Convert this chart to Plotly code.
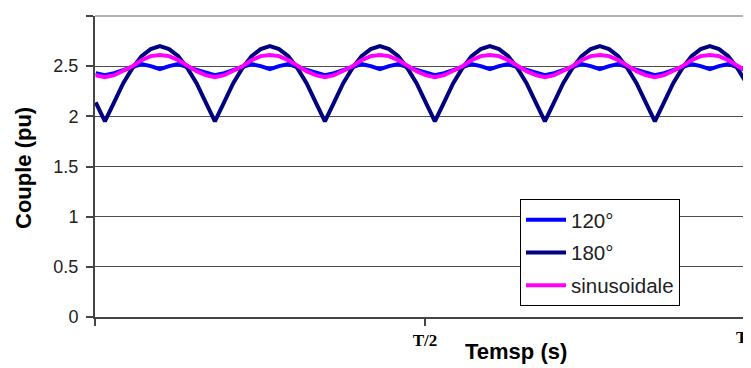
import plotly.graph_objects as go

# Time samples in units of the period T (uniform sampling, 1/72 T step)
t = [0.015 + (i - 1) / 72 for i in range(74)]

# Torque values (pu)
couple_120 = [2.43,
              2.41, 2.43, 2.46, 2.49, 2.52, 2.50, 2.47, 2.50, 2.52, 2.49, 2.46, 2.43,
              2.41, 2.43, 2.46, 2.49, 2.52, 2.50, 2.47, 2.50, 2.52, 2.49, 2.46, 2.43,
              2.41, 2.43, 2.46, 2.49, 2.52, 2.50, 2.47, 2.50, 2.52, 2.49, 2.46, 2.43,
              2.41, 2.43, 2.46, 2.49, 2.52, 2.50, 2.47, 2.50, 2.52, 2.49, 2.46, 2.43,
              2.41, 2.43, 2.46, 2.49, 2.52, 2.50, 2.47, 2.50, 2.52, 2.49, 2.46, 2.43,
              2.41, 2.43, 2.46, 2.49, 2.52, 2.50, 2.47, 2.50, 2.52, 2.49, 2.46, 2.43,
              2.41]
couple_180 = [2.14,
              1.95, 2.14, 2.33, 2.48, 2.60, 2.67, 2.70, 2.67, 2.60, 2.48, 2.33, 2.14,
              1.95, 2.14, 2.33, 2.48, 2.60, 2.67, 2.70, 2.67, 2.60, 2.48, 2.33, 2.14,
              1.95, 2.14, 2.33, 2.48, 2.60, 2.67, 2.70, 2.67, 2.60, 2.48, 2.33, 2.14,
              1.95, 2.14, 2.33, 2.48, 2.60, 2.67, 2.70, 2.67, 2.60, 2.48, 2.33, 2.14,
              1.95, 2.14, 2.33, 2.48, 2.60, 2.67, 2.70, 2.67, 2.60, 2.48, 2.33, 2.14,
              1.95, 2.14, 2.33, 2.48, 2.60, 2.67, 2.70, 2.67, 2.60, 2.48, 2.33, 2.14,
              1.95]
couple_sin = [2.41,
              2.39, 2.41, 2.45, 2.50, 2.56, 2.60, 2.61, 2.60, 2.56, 2.50, 2.45, 2.41,
              2.39, 2.41, 2.45, 2.50, 2.56, 2.60, 2.61, 2.60, 2.56, 2.50, 2.45, 2.41,
              2.39, 2.41, 2.45, 2.50, 2.56, 2.60, 2.61, 2.60, 2.56, 2.50, 2.45, 2.41,
              2.39, 2.41, 2.45, 2.50, 2.56, 2.60, 2.61, 2.60, 2.56, 2.50, 2.45, 2.41,
              2.39, 2.41, 2.45, 2.50, 2.56, 2.60, 2.61, 2.60, 2.56, 2.50, 2.45, 2.41,
              2.39, 2.41, 2.45, 2.50, 2.56, 2.60, 2.61, 2.60, 2.56, 2.50, 2.45, 2.41,
              2.39]

series_names = ["120°", "180°", "sinusoidale"]
series_colors = ["#0000FF", "#000080", "#FF00FF"]
series_values = [couple_120, couple_180, couple_sin]

y_ticks = [0, 0.5, 1, 1.5, 2, 2.5, 3]
y_ticktext = ["0", "0.5", "1", "1.5", "2", "2.5", "3"]
x_ticks = [0, 0.5]
x_ticktext = ["", "<b>T/2</b>"]

fig = go.Figure()
for name, color, vals in zip(series_names, series_colors, series_values):
    fig.add_trace(go.Scatter(x=t, y=vals, mode="lines", name=name,
                             legendgroup=name,
                             line=dict(color=color, width=4)))

# page body has an 8px margin: figure sits at (8, 8) in the window
OFF = 8
WIN_W, WIN_H = 751, 368
W, H = WIN_W - OFF, WIN_H - OFF
PL, PT, PR, PB = 95, 16, 751, 317          # plot area in window pixels
L, T = PL - OFF, PT - OFF
R, B = (OFF + W) - PR, (OFF + H) - PB
pw, ph = PR - PL, PB - PT

def px_x(x):
    return (x - PL) / pw

def px_y(y):
    return (PB - y) / ph

# top gridline along the upper edge of the plot area (y = 3)
fig.add_shape(type="line", xref="paper", yref="paper", x0=0, x1=1, y0=1, y1=1,
              line=dict(color="#999999", width=1.5), layer="below")

fig.update_layout(
    width=W, height=H,
    margin=dict(l=L, r=R, t=T, b=B, autoexpand=False),
    paper_bgcolor="white", plot_bgcolor="white",
    showlegend=True,
    legend=dict(x=px_x(520), y=px_y(199), xanchor="left", yanchor="top",
                bgcolor="white", bordercolor="black", borderwidth=1,
                font=dict(family="Liberation Sans, Arial", size=20.5, color="#222"),
                itemwidth=40, tracegroupgap=3, traceorder="grouped"),
    xaxis=dict(range=[0, 0.994], tickvals=x_ticks, ticktext=x_ticktext,
               showgrid=False, zeroline=False, showline=True,
               linecolor="#444", linewidth=2,
               ticks="outside", ticklen=7, tickcolor="#444", tickwidth=2,
               tickfont=dict(family="Liberation Serif, Times New Roman", size=17, color="black")),
    yaxis=dict(range=[0, 3], tickvals=y_ticks, ticktext=y_ticktext,
               showgrid=True, gridcolor="#4d4d4d", gridwidth=1,
               zeroline=False, showline=True, linecolor="#444", linewidth=2,
               ticks="outside", ticklen=7, tickcolor="#444", tickwidth=2,
               ticklabelstandoff=4,
               tickfont=dict(family="Liberation Sans, Arial", size=18, color="#222")),
    annotations=[
        dict(text="<b>Couple (pu)</b>", xref="paper", yref="paper",
             x=px_x(23), y=px_y(168), textangle=-90, showarrow=False,
             xanchor="center", yanchor="middle",
             font=dict(family="Liberation Sans, Arial", size=22, color="black")),
        dict(text="<b>Temsp (s)</b>", xref="paper", yref="paper",
             x=px_x(516), y=px_y(351), showarrow=False,
             xanchor="center", yanchor="middle",
             font=dict(family="Liberation Sans, Arial", size=22, color="black")),
        dict(text="<b>T</b>", xref="paper", yref="paper",
             x=px_x(750), y=px_y(337), showarrow=False,
             xanchor="right", yanchor="middle",
             font=dict(family="Liberation Serif, Times New Roman", size=17, color="black")),
    ],
)

fig.write_html("out.html")
